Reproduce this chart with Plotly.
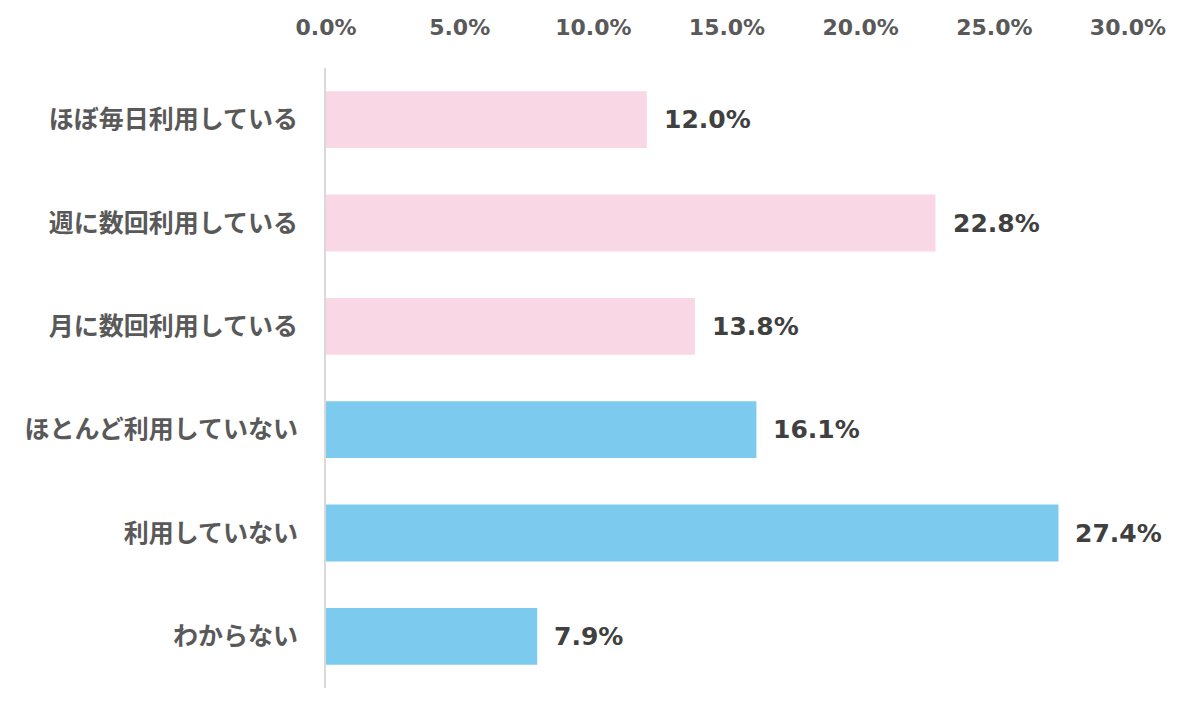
import plotly.graph_objects as go

categories = ["ほぼ毎日利用している", "週に数回利用している", "月に数回利用している",
              "ほとんど利用していない", "利用していない", "わからない"]
values = [12.0, 22.8, 13.8, 16.1, 27.4, 7.9]
bar_colors = ["#F9D7E5", "#F9D7E5", "#F9D7E5", "#7CCAEE", "#7CCAEE", "#7CCAEE"]
tick_vals = [0, 5, 10, 15, 20, 25, 30]
tick_text = ["0.0%", "5.0%", "10.0%", "15.0%", "20.0%", "25.0%", "30.0%"]

LATIN = "DejaVu Sans, Noto Sans CJK JP, sans-serif"
CJK = "Noto Sans CJK JP, DejaVu Sans, sans-serif"

fig = go.Figure()
fig.add_trace(go.Bar(
    x=values, y=categories, orientation="h",
    marker=dict(color=bar_colors, line=dict(width=0)),
    width=0.55, hoverinfo="skip",
))

for c, v in zip(categories, values):
    fig.add_annotation(x=v, y=c, text=f"{v:.1f}%", showarrow=False,
                       xanchor="left", yanchor="middle", xshift=15,
                       font=dict(family=LATIN, size=25, color="#404040", weight="bold"))

fig.update_layout(
    width=1200, height=720,
    margin=dict(l=326, r=72, t=68, b=32),
    paper_bgcolor="white", plot_bgcolor="white",
    showlegend=False,
    bargap=0.45,
)
fig.update_xaxes(
    range=[0, 30], side="top", tickvals=tick_vals, ticktext=tick_text,
    showgrid=False, zeroline=False, showline=False, ticks="",
    tickfont=dict(family=LATIN, size=22, color="#595959", weight="bold"),
    ticklabelstandoff=28,
)
fig.update_yaxes(
    categoryorder="array", categoryarray=categories, autorange="reversed",
    showgrid=False, zeroline=False, showline=True, linecolor="#D9D9D9", linewidth=2,
    ticks="", ticklabelstandoff=21,
    tickfont=dict(family=CJK, size=25, color="#595959", weight="bold"),
)

fig.write_html("out.html")
